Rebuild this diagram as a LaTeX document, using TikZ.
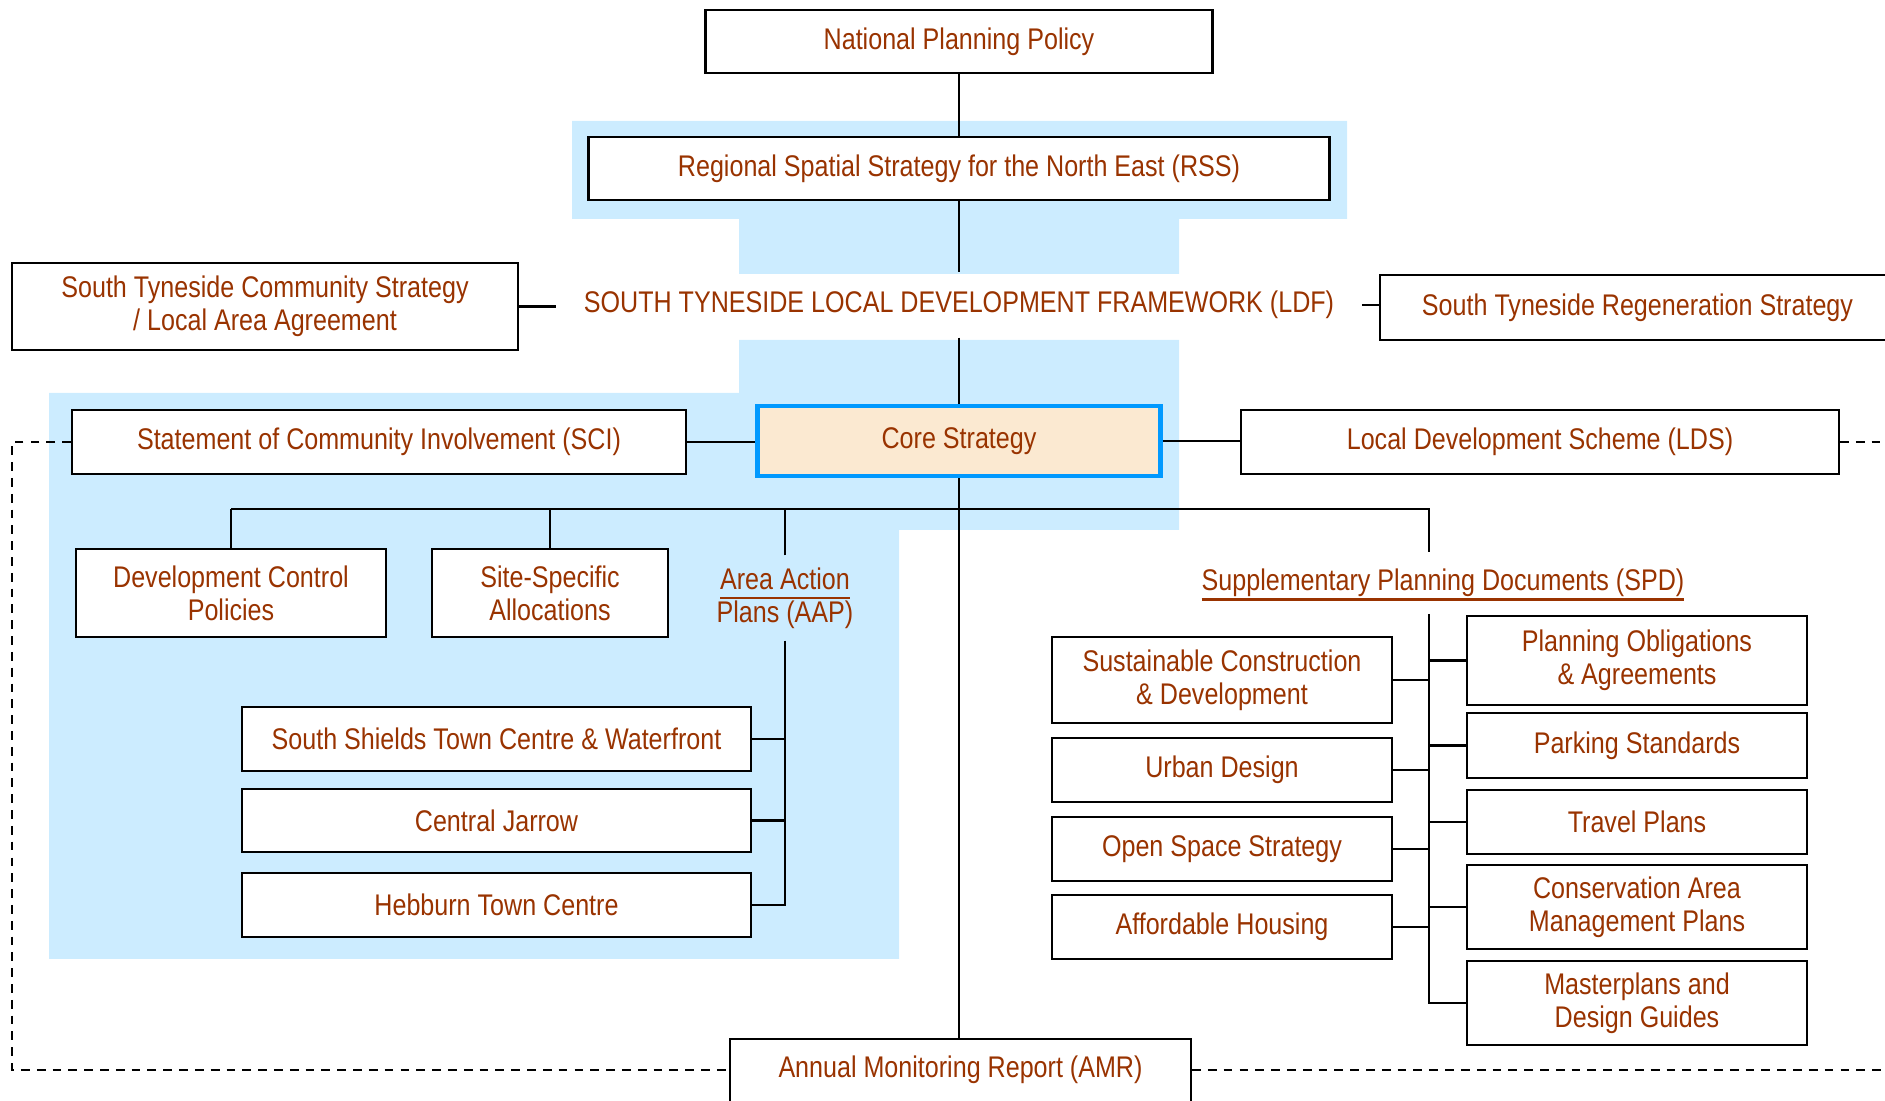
\documentclass[tikz,border=0pt]{standalone}
\usepackage{fontspec}
\setmainfont[FakeStretch=0.84]{Liberation Sans}
\newcommand{\ldfuline}[1]{\setbox0\hbox{#1}\rlap{\rule[-2.8pt]{\wd0}{0.75pt}}\box0}
\definecolor{ldftext}{RGB}{153,51,0}
\definecolor{ldfblue}{RGB}{204,236,255}
\definecolor{corefill}{RGB}{251,233,209}
\definecolor{coreline}{RGB}{0,153,255}
\tikzset{every node/.append style={text=ldftext, font=\fontsize{8.5}{9.3}\selectfont, align=center}}
\tikzset{doc/.style={draw=black, line width=0.6pt, fill=white, inner sep=0pt}}
\tikzset{link/.style={draw=black, line width=0.6pt}}

\begin{document}
\begin{tikzpicture}[y=-1cm]
	\useasboundingbox (0,0) rectangle (18.85,11.01);
	\fill[ldfblue] (5.72,1.21) -- (13.47,1.21) -- (13.47,2.19) -- (11.79,2.19) -- (11.79,2.74)
		-- (7.39,2.74) -- (7.39,2.19) -- (5.72,2.19) -- cycle;
	\fill[ldfblue] (7.39,3.40) -- (11.79,3.40) -- (11.79,5.30) -- (8.99,5.30) -- (8.99,9.59)
		-- (0.49,9.59) -- (0.49,3.93) -- (7.39,3.93) -- cycle;

	\node[doc, minimum width=5.07cm, minimum height=0.63cm] (npp) at (9.59,0.415) {National Planning Policy};
	\node[doc, minimum width=7.41cm, minimum height=0.63cm] (rss) at (9.59,1.685) {Regional Spatial Strategy for the North East (RSS)};
	\node[inner xsep=0.27cm, minimum height=0.64cm] (ldf) at (9.59,3.05) {SOUTH TYNESIDE LOCAL DEVELOPMENT FRAMEWORK (LDF)};
	\node[doc, minimum width=5.06cm, minimum height=0.87cm] (com) at (2.65,3.065) {South Tyneside Community Strategy\\/ Local Area Agreement};
	\node[doc, minimum width=5.15cm, minimum height=0.65cm] (regen) at (16.375,3.075) {South Tyneside Regeneration Strategy};
	\node[doc, fill=corefill, draw=coreline, line width=1.4pt, minimum width=4.03cm, minimum height=0.70cm] (core) at (9.59,4.41) {Core Strategy};
	\node[doc, minimum width=6.14cm, minimum height=0.64cm] (sci) at (3.79,4.42) {Statement of Community Involvement (SCI)};
	\node[doc, minimum width=5.98cm, minimum height=0.64cm] (lds) at (15.40,4.42) {Local Development Scheme (LDS)};

	\node[doc, minimum width=3.10cm, minimum height=0.88cm] (dcp) at (2.31,5.93) {Development Control\\Policies};
	\node[doc, minimum width=2.36cm, minimum height=0.88cm] (ssa) at (5.50,5.93) {Site-Specific\\Allocations};
	\node[inner sep=0pt, minimum height=0.84cm] (aap) at (7.85,5.98) {\ldfuline{Area Action}\\Plans (AAP)};
	\node[doc, minimum width=5.09cm, minimum height=0.64cm] (ssw) at (4.965,7.39) {South Shields Town Centre \& Waterfront};
	\node[doc, minimum width=5.09cm, minimum height=0.63cm] (cj) at (4.965,8.205) {Central Jarrow};
	\node[doc, minimum width=5.09cm, minimum height=0.64cm] (htc) at (4.965,9.05) {Hebburn Town Centre};

	\node (spd) at (14.43,5.85) {\ldfuline{Supplementary Planning Documents (SPD)}};
	\node[doc, minimum width=3.40cm, minimum height=0.86cm] (scd) at (12.22,6.80) {Sustainable Construction\\\& Development};
	\node[doc, minimum width=3.40cm, minimum height=0.64cm] (ud) at (12.22,7.70) {Urban Design};
	\node[doc, minimum width=3.40cm, minimum height=0.64cm] (oss) at (12.22,8.49) {Open Space Strategy};
	\node[doc, minimum width=3.40cm, minimum height=0.64cm] (ah) at (12.22,9.27) {Affordable Housing};
	\node[doc, minimum width=3.40cm, minimum height=0.89cm] (poa) at (16.37,6.605) {Planning Obligations\\\& Agreements};
	\node[doc, minimum width=3.40cm, minimum height=0.65cm] (ps) at (16.37,7.455) {Parking Standards};
	\node[doc, minimum width=3.40cm, minimum height=0.64cm] (tp) at (16.37,8.22) {Travel Plans};
	\node[doc, minimum width=3.40cm, minimum height=0.84cm] (cam) at (16.37,9.07) {Conservation Area\\Management Plans};
	\node[doc, minimum width=3.40cm, minimum height=0.84cm] (mdg) at (16.37,10.03) {Masterplans and\\Design Guides};

	\node[doc, minimum width=4.61cm, minimum height=0.72cm, text depth=4.5pt] (amr) at (9.605,10.75) {Annual Monitoring Report (AMR)};

	\coordinate (busw) at (2.31,5.09);
	\coordinate (buse) at (14.29,5.09);
	\coordinate (spdtop) at (14.29,5.52);
	\coordinate (spdbus) at (14.29,6.14);
	\coordinate (dashsw) at (0.12,10.70);
	\coordinate (dashse) at (18.85,10.70);

	\draw[link] (npp.south) -- (npp.south |- rss.north)
		(rss.south) -- (rss.south |- ldf.north)
		(ldf.south) -- (ldf.south |- core.north)
		(core.south) -- (core.south |- amr.north);
	\draw[link] (com.east) -- (com.east -| ldf.west)
		(ldf.east) -- (ldf.east -| regen.west)
		(sci.east) -- (sci.east -| core.west)
		(core.east) -- (core.east -| lds.west);
	\draw[link] (busw) -- (buse) -- (spdtop)
		(dcp.north) -- (dcp.north |- busw)
		(ssa.north) -- (ssa.north |- busw)
		(aap.north) -- (aap.north |- busw);
	\draw[link] (aap.south) |- (htc.east)
		(ssw.east) -- (ssw.east -| aap.south)
		(cj.east) -- (cj.east -| aap.south);
	\draw[link] (spdbus) |- (mdg.west)
		(scd.east) -- (scd.east -| spdbus)
		(ud.east) -- (ud.east -| spdbus)
		(oss.east) -- (oss.east -| spdbus)
		(ah.east) -- (ah.east -| spdbus)
		(poa.west) -- (poa.west -| spdbus)
		(ps.west) -- (ps.west -| spdbus)
		(tp.west) -- (tp.west -| spdbus)
		(cam.west) -- (cam.west -| spdbus);
	\draw[link, dash pattern=on 2.5pt off 2pt] (sci.west) -| (dashsw) -- (dashsw -| amr.west)
		(amr.east |- dashse) -- (dashse)
		(lds.east) -- (lds.east -| dashse);
\end{tikzpicture}
\end{document}
